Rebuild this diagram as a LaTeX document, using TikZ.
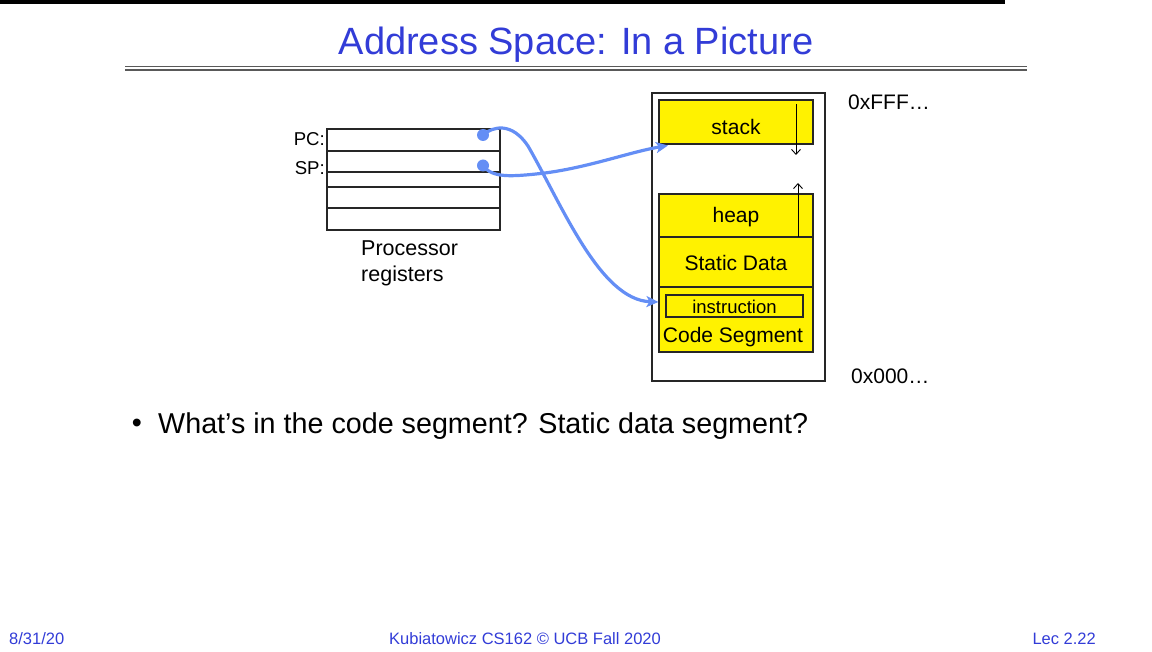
\documentclass[tikz,border=0pt]{standalone}
\usepackage{fontspec}
\setmainfont{Liberation Sans}
\usetikzlibrary{arrows.meta, positioning}
\definecolor{slideblue}{RGB}{50,60,215}
\definecolor{ptrblue}{RGB}{100,142,245}
\definecolor{segyellow}{RGB}{255,242,0}

\tikzset{
  box/.style={draw=black!85, line width=1.1pt, inner sep=0pt},
  seg/.style={box, fill=segyellow, minimum width=154, text depth=0pt,
    font=\fontsize{21}{24}\selectfont},
  lbl/.style={font=\fontsize{21}{24}\selectfont, inner sep=0pt},
  ptr/.style={ptrblue, line width=3.2pt, -{Stealth[length=12pt,width=11pt,inset=3pt]}},
  growarrow/.style={line width=0.9pt, -{Straight Barb[length=5pt,width=9pt]}},
}

\begin{document}
\begin{tikzpicture}[x=1pt,y=-1pt]
  \useasboundingbox (0,0) rectangle (1152,652);
  \fill (0,0) rectangle (1005,4);

  % title
  \node[slideblue, font=\fontsize{38}{42}\selectfont, inner sep=0pt] (title) at (576,45) {Address Space: In a Picture};
  \draw[line width=0.9pt, black!65] (125,66.5) -- (1027,66.5);
  \draw[line width=2.2pt, black!65] (125,70) -- (1027,70);

  % registers
  \node[box, minimum width=173, minimum height=101] (regs) at (413.5,179.5) {};
  \draw[line width=1.1pt, black!85] (327,151) -- (500,151);
  \draw[line width=1.1pt, black!85] (327,172) -- (500,172);
  \draw[line width=1.1pt, black!85] (327,187) -- (500,187);
  \draw[line width=1.1pt, black!85] (327,208) -- (500,208);
  \node[anchor=east, font=\fontsize{18.6}{21}\selectfont, inner sep=0pt] (pc) at (325,139) {PC:};
  \node[anchor=east, font=\fontsize{18.6}{21}\selectfont, inner sep=0pt] (sp) at (325,168) {SP:};
  \node[anchor=north west, align=left, font=\fontsize{21.5}{25.5}\selectfont, inner sep=0pt] (proc) at (361,241) {Processor\\registers};

  % memory
  \node[box, minimum width=173, minimum height=288] (mem) at (738.5,237) {};
  \node[seg, minimum height=44, text height=26pt] (stack) at (736,122) {stack};
  \node[seg, minimum height=43, text height=14pt] (heap) at (736,215.5) {heap};
  \node[seg, minimum height=50, text height=18pt] (static) at (736,262) {Static Data};
  \node[seg, minimum height=65] (code) at (736,319.5) {};
  \node[box, minimum width=137, minimum height=22, text height=15pt, text depth=0pt, font=\fontsize{18.5}{21}\selectfont] (instr) at (734.5,306) {instruction};
  \node[lbl, anchor=base] (codelbl) at (733,343) {Code Segment};
  \draw[growarrow] (796,104) -- (796,155);
  \draw[growarrow] (798,237) -- (798,183);
  \node[lbl, anchor=west] (hi) at (848,102) {0xFFF\ldots};
  \node[lbl, anchor=west] (lo) at (851,376) {0x000\ldots};

  % pointers
  \coordinate (pcdot) at (483,135);
  \coordinate (spdot) at (483,165.5);
  \coordinate (sptip) at (668,145.5);
  \fill[ptrblue] (pcdot) circle (6);
  \fill[ptrblue] (spdot) circle (6);
  \draw[ptr] (pcdot) .. controls (493,126) and (512,122) .. (528,146)
    .. controls (562,205) and (600,300) .. (code.west |- 0,302);
  \draw[ptr] (spdot) .. controls (492,178) and (510,177) .. (545,173)
    .. controls (590,167) and (630,152) .. (sptip);

  % bullet
  \node[font=\fontsize{28.7}{32}\selectfont, inner sep=0pt] (dot) at (137,426) {\textbullet};
  \node[anchor=west, font=\fontsize{28.7}{32}\selectfont, inner sep=0pt] (q) at (158,426) {What’s in the code segment? Static data segment?};

  % footer
  \node[slideblue, anchor=west, font=\fontsize{16.5}{19}\selectfont, inner sep=0pt] (date) at (9,639) {8/31/20};
  \node[slideblue, font=\fontsize{16.5}{19}\selectfont, inner sep=0pt] (foot) at (525,639) {Kubiatowicz CS162 © UCB Fall 2020};
  \node[slideblue, anchor=east, font=\fontsize{16.5}{19}\selectfont, inner sep=0pt] (lec) at (1096,639) {Lec 2.22};
\end{tikzpicture}
\end{document}
